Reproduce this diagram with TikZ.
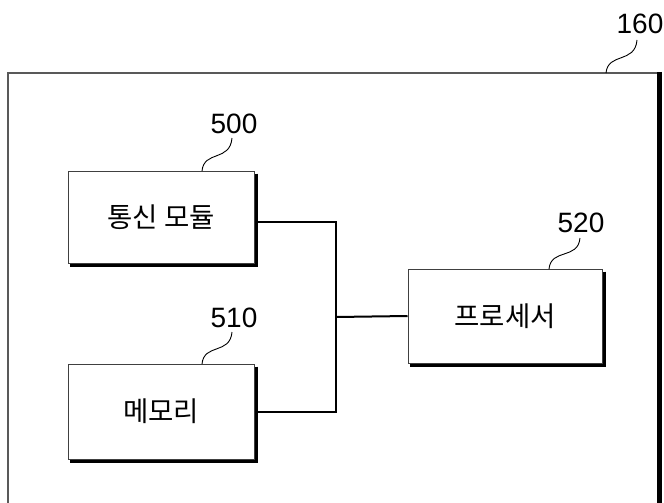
\documentclass[tikz,border=0pt]{standalone}
\usepackage{fontspec}
\setmainfont{Liberation Sans}
\newfontfamily\kr{Noto Sans CJK KR}
\usetikzlibrary{calc}
\begin{document}
\begin{tikzpicture}[x=1pt,y=-1pt,
  blockbox/.style={draw=black!75, line width=1pt, fill=white, inner sep=0pt,
    font=\kr\fontsize{27.5}{27.5}\selectfont},
  shadowline/.style={line width=3.5pt, black},
  conn/.style={line width=2pt, black},
  leader/.style={line width=0.9pt, black},
  reflabel/.style={font=\fontsize{28}{28}\selectfont, inner sep=0pt, anchor=south}]
\useasboundingbox (0,0) rectangle (664,503);
% outer frame
\coordinate (fa) at (8,503);
\coordinate (fb) at (8,73);
\coordinate (fc) at (660,73);
\coordinate (fd) at (659.5,72);
\coordinate (fe) at (659.5,503);
\draw[line width=1.5pt, black!65] (fa) -- (fb) -- (fc);
\draw[line width=4.5pt, black] (fd) -- (fe);
% blocks
\node[blockbox, minimum width=186pt, minimum height=92pt] (b500) at (161,217) {\raisebox{-5pt}{통신 모듈}};
\node[blockbox, minimum width=186pt, minimum height=95pt] (b510) at (161,411.5) {메모리};
\node[blockbox, minimum width=194pt, minimum height=94pt] (b520) at (505,316) {프로세서};
\foreach \b in {b500,b510,b520}{
  \draw[shadowline] ($(\b.north east)+(1.8,3)$) |- ($(\b.south west)+(2,1.8)$);
}
% labels
\node[reflabel] (l160) at (640,34) {160};
\node[reflabel] (l500) at (234,134) {500};
\node[reflabel] (l510) at (234,328) {510};
\node[reflabel] (l520) at (581,233) {520};
% leaders
\coordinate (s160) at (606,73);
\coordinate (s500) at (202,171);
\coordinate (s510) at (202,364);
\coordinate (s520) at (549,269);
\draw[leader] (s160) .. controls (608,52) and (635,64) .. ($(l160.south)+(-3,6)$);
\draw[leader] (s500) .. controls (204,150) and (230,162) .. ($(l500.south)+(-2,4)$);
\draw[leader] (s510) .. controls (204,343) and (230,355) .. ($(l510.south)+(-2,4)$);
\draw[leader] (s520) .. controls (551,248) and (578,260) .. ($(l520.south)+(-1,5)$);
% connectors
\coordinate (jn) at (336,317);
\draw[conn] ([yshift=-5pt]b500.east) -| (jn);
\draw[conn] (b510.east) -| (jn);
\draw[conn] (jn) -- (b520.west);
\end{tikzpicture}
\end{document}
